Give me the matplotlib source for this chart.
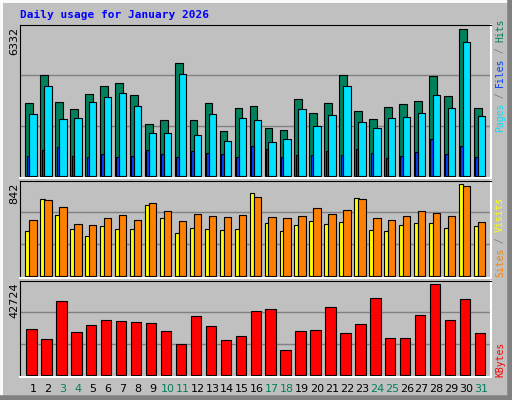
import matplotlib
matplotlib.use("Agg")
import matplotlib.pyplot as plt
from matplotlib.patches import Rectangle

days = list(range(1, 32))
hits = [3137, 4346, 3180, 2878, 3526, 3871, 4000, 3482, 2230, 2403, 4864, 2403, 3137, 1928, 2921, 3008,
        2058, 1971, 3310, 2705, 3137, 4346, 2792, 2446, 2964, 3094, 3223, 4303, 3439, 6332, 2921]
files = [2662, 3871, 2446, 2489, 3180, 3396, 3569, 3008, 1842, 1842, 4389, 1756, 2662, 1497, 2489, 2403,
         1453, 1583, 2878, 2144, 2619, 3871, 2317, 2058, 2489, 2533, 2705, 3482, 2921, 5770, 2576]
pages = [849, 1108, 1238, 849, 806, 935, 806, 849, 1108, 935, 806, 1065, 979, 935, 806, 1281,
         1151, 806, 892, 892, 1065, 892, 1151, 979, 763, 849, 1022, 1583, 935, 1281, 806]
sites = [413, 705, 559, 432, 368, 459, 432, 432, 651, 532, 395, 441, 432, 423, 432, 760,
         486, 413, 468, 505, 477, 496, 714, 423, 413, 468, 486, 486, 441, 842, 459]
visits = [514, 696, 632, 477, 468, 532, 559, 514, 669, 596, 505, 568, 550, 541, 559, 724,
          541, 532, 550, 623, 568, 605, 705, 532, 514, 550, 596, 578, 550, 824, 496]
kbytes = [21754, 17059, 34900, 20345, 23632, 25979, 25510, 25040, 24571, 20815, 14711, 27857, 23162,
          16589, 18467, 30205, 31144, 11894, 20815, 21284, 32083, 19876, 24101, 36308, 17528, 17528,
          28327, 42724, 25979, 35839, 19876]
weekends = [3, 4, 10, 11, 17, 18, 24, 25, 31]

W, H = 512, 400
BG = "#C0C0C0"
fig = plt.figure(figsize=(W / 100, H / 100), dpi=100, facecolor=BG)

# bevelled outer frame
fig.add_artist(plt.Line2D([1, W - 2], [H - 1, H - 1], transform=None, color="white", lw=2))
fig.add_artist(plt.Line2D([1, 1], [1, H - 1], transform=None, color="white", lw=2))
fig.add_artist(plt.Line2D([1, W - 1], [2, 2], transform=None, color="#808080", lw=4))
fig.add_artist(plt.Line2D([W - 2, W - 2], [1, H - 1], transform=None, color="#808080", lw=4))

fig.text(20 / W, 1 - 15 / H, "Daily usage for January 2026", color="#0000FF", fontsize=8,
         fontweight="bold", family="DejaVu Sans Mono", va="center")

x_left, x_right = 20, 491
d0 = 1 - 13 / 14.95
d1 = 1 + 458 / 14.95


def panel(top, base, bottom, vmax, vmax_px):
    ax = fig.add_axes([x_left / W, 1 - bottom / H, (x_right - x_left) / W, (bottom - top) / H])
    ax.set_facecolor(BG)
    per_px = vmax / (base - vmax_px)
    ax.set_ylim(-(bottom - base) * per_px, (base - top) * per_px)
    ax.set_xlim(d0, d1)
    full = (base - top) * per_px
    for g in (full / 3, 2 * full / 3):
        ax.axhline(g, color="#808080", lw=1, zorder=0)
    ax.set_xticks([])
    ax.set_yticks([])
    for s in ("top", "left"):
        ax.spines[s].set_color("black")
    for s in ("bottom", "right"):
        ax.spines[s].set_color("white")
        ax.spines[s].set_linewidth(1.5)
    fig.text(14 / W, 1 - (top + 2) / H, str(vmax), rotation=90, fontsize=8, ha="center", va="top")
    return ax


def bars(ax, vals, lo, hi, color):
    ax.bar([d + lo for d in days], vals, width=hi - lo, align="edge", color=color,
           edgecolor="black", linewidth=0.8)


def side_label(parts, bottom_px):
    y = bottom_px
    for txt, col in parts:
        t = fig.text(500 / W, 1 - y / H, txt, rotation=90, color=col, fontsize=7,
                     family="DejaVu Sans Mono", ha="center", va="bottom")
        y -= len(txt) * 5.6


ax1 = panel(24.7, 176, 178, 6332, 29.3)
bars(ax1, hits, -0.51, 0.0, "#00805C")
bars(ax1, files, -0.25, 0.245, "#00E0FF")
bars(ax1, pages, -0.42, -0.25, "#0040FF")
side_label([("Pages", "#00E0FF"), (" / ", "#808080"), ("Files", "#0040FF"),
            (" / ", "#808080"), ("Hits", "#00805C")], 132)

ax2 = panel(180.5, 276.3, 278, 842, 184)
bars(ax2, sites, -0.51, -0.22, "#FFFF00")
bars(ax2, visits, -0.25, 0.245, "#FF8000")
side_label([("Sites", "#FF8000"), (" / ", "#808080"), ("Visits", "#FFFF00")], 277)

ax3 = panel(280.5, 375.3, 377, 42724, 284.3)
bars(ax3, kbytes, -0.45, 0.245, "#FF0000")
side_label([("KBytes", "#FF0000")], 377)

for d in days:
    px = 33 + 14.95 * (d - 1)
    fig.text(px / W, 1 - 389 / H, str(d), fontsize=8, ha="center", va="center",
             color="#00805C" if d in weekends else "black")

fig.savefig("out.png", dpi=100, facecolor=BG)
